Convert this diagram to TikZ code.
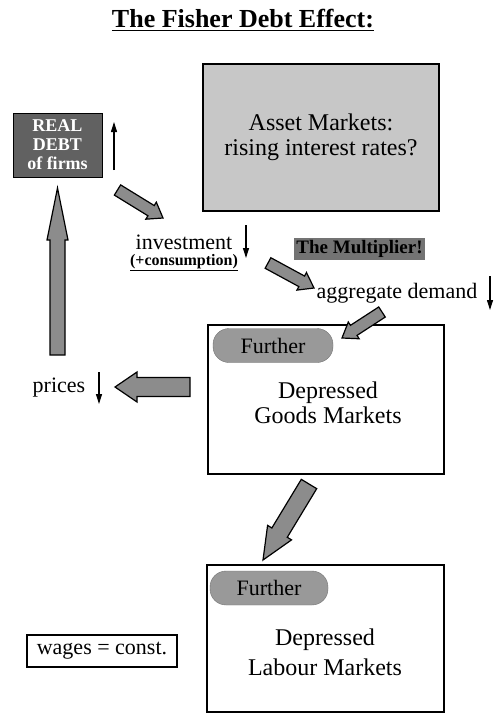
\documentclass[tikz,border=0pt]{standalone}
\usepackage{fontspec}
\setmainfont{Liberation Serif}
\usetikzlibrary{calc,arrows.meta}
\newcommand\fsz[1]{\fontsize{#1}{#1}\selectfont}
\newcommand\fatarrow[5]{%
  \coordinate (faH) at ($(#2)!#5!(#1)$);
  \draw[fatstyle] ($(#1)!#3!90:(#2)$) -- ($(faH)!#3!90:(#2)$) -- ($(faH)!#4!90:(#2)$) -- (#2)
    -- ($(faH)!#4!-90:(#2)$) -- ($(faH)!#3!-90:(#2)$) -- ($(#1)!#3!-90:(#2)$) -- cycle;}
\tikzset{
  fatstyle/.style={fill=black!45, draw=black, line width=1.2pt, line join=miter},
  txt/.style={inner sep=0pt, font=\fsz{22}},
  bigbox/.style={draw=black, line width=1.5pt, inner sep=0pt},
  pill/.style={fill=black!40, draw=black!55, rounded corners=16pt, inner sep=0pt, minimum height=34pt, font=\fsz{22}},
  thin/.style={line width=1.1pt, -{Triangle[length=10pt,width=6pt]}},
}
\begin{document}
\begin{tikzpicture}[x=1pt,y=-1pt]
\useasboundingbox (0,0) rectangle (496,713);
% title
\node[inner sep=0pt, font=\fsz{26}\bfseries] (title) at (243,20) {\underline{The Fisher Debt Effect:}};
% real debt
\node[bigbox, fill=black!62, minimum width=89pt, minimum height=64pt, align=center,
      text=white, font=\fsz{18}\bfseries, line width=1pt] (debt) at (57.5,145)
      {REAL\\[1pt]DEBT\\[1pt]of firms};
\coordinate (debtup0) at (114,170);
\coordinate (debtup1) at (114,122);
\draw[thin] (debtup0) -- (debtup1);
% asset markets
\node[bigbox, fill=black!22, minimum width=236pt, minimum height=147pt, align=center,
      font=\fsz{24}] (asset) at (321,137.5) {Asset Markets:\\[1pt]rising interest rates?};
% investment
\node[txt] (invest) at (184,242) {investment};
\node[inner sep=0pt, font=\fsz{16}\bfseries] (consump) at (184,263) {\underline{(+consumption)}};
\coordinate (inv0) at (246,225);
\coordinate (inv1) at (246,258);
\draw[thin] (inv0) -- (inv1);
% multiplier
\node[fill=black!55, inner xsep=2pt, inner ysep=2pt, font=\fsz{19}\bfseries] (mult) at (359.5,249) {The Multiplier!};
% aggregate demand
\node[txt] (aggr) at (397,293) {aggregate demand};
\coordinate (agg0) at (490,276);
\coordinate (agg1) at (490,310);
\draw[thin] (agg0) -- (agg1);
% goods markets
\node[bigbox, minimum width=236pt, minimum height=149pt] (goods) at (326,399.5) {};
\node[pill, minimum width=120pt] (pill1) at (273,345.5) {Further};
\node[txt, align=center, font=\fsz{24}] (gtext) at (328,403) {Depressed\\[1pt]Goods Markets};
% prices
\node[txt] (prices) at (59,388) {prices};
\coordinate (pr0) at (99,372);
\coordinate (pr1) at (99,404);
\draw[thin] (pr0) -- (pr1);
% labour markets
\node[bigbox, minimum width=237pt, minimum height=147pt] (labour) at (325.5,638.5) {};
\node[pill, minimum width=118pt] (pill2) at (269,588) {Further};
\node[txt, align=center, font=\fsz{24}] (ltext) at (325,652) {Depressed\\[6pt]Labour Markets};
% wages
\node[draw=black, line width=1.2pt, minimum width=150pt, minimum height=32pt, inner sep=0pt, font=\fsz{22}] (wages) at (102,651) {wages = const.};
% fat arrows
\coordinate (a1s) at (117.5,190); \coordinate (a1e) at (163,218);
\coordinate (a2s) at (268,263);   \coordinate (a2e) at (314,288);
\coordinate (a3s) at (382,312);   \coordinate (a3e) at (342,338);
\coordinate (a4s) at (190,387);   \coordinate (a4e) at (115,387);
\coordinate (a5s) at (57.5,355);  \coordinate (a5e) at (57.5,188);
\coordinate (a6s) at (309,484);   \coordinate (a6e) at (263,560);
\fatarrow{a1s}{a1e}{6pt}{10pt}{14pt}
\fatarrow{a2s}{a2e}{6pt}{10pt}{14pt}
\fatarrow{a3s}{a3e}{6pt}{10pt}{14pt}
\fatarrow{a4s}{a4e}{9.5pt}{15pt}{22pt}
\fatarrow{a5s}{a5e}{7.5pt}{10.5pt}{52pt}
\fatarrow{a6s}{a6e}{9pt}{14pt}{32pt}
\end{tikzpicture}
\end{document}
